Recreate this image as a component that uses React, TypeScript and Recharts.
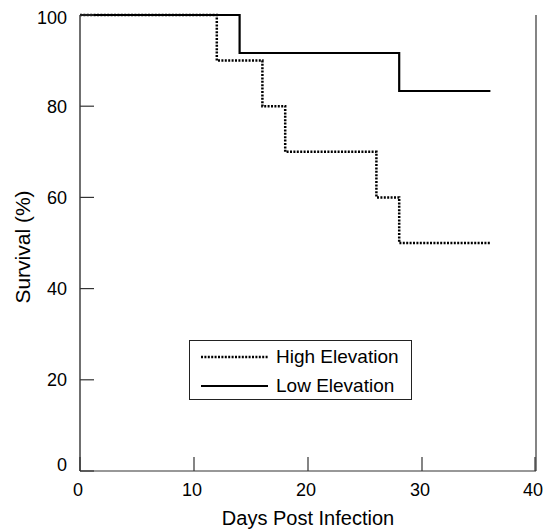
import React from 'react';
import { LineChart, Line, XAxis, YAxis, Legend, Label } from 'recharts';

// Kaplan-Meier steps
const highDays = [0, 12, 16, 18, 26, 28, 36];
const highSurvival = [100, 90, 80, 70, 60, 50, 50];
const lowDays = [0, 14, 28, 36];
const lowSurvival = [100, 91.67, 83.33, 83.33];

const xTicks = [0, 10, 20, 30, 40];
const yTicks = [0, 20, 40, 60, 80, 100];

const highData = highDays.map((d, i) => ({ day: d, survival: highSurvival[i] }));
const lowData = lowDays.map((d, i) => ({ day: d, survival: lowSurvival[i] }));

const AXIS = '#333';
const FONT = '"Liberation Sans", Arial, sans-serif';
const DOTS = '2 1.4';

const LeftTick = (props: any) => {
  const { x, y, payload } = props;
  // end labels sit slightly inside the frame in the original
  const nudge = payload.value === 0 ? -6 : payload.value === 100 ? 3 : 0;
  return (
    <g>
      <line x1={x} x2={x + 14} y1={y} y2={y} stroke={AXIS} strokeWidth={1.2} />
      <text x={x - 13} y={y + nudge} dy="0.35em" textAnchor="end" fontSize={18} fill="#000" fontFamily={FONT}>
        {payload.value}
      </text>
    </g>
  );
};

const RightTick = (props: any) => {
  const { x, y } = props;
  return <line x1={x} x2={x - 14} y1={y} y2={y} stroke={AXIS} strokeWidth={1.2} />;
};

const BottomTick = (props: any) => {
  const { x, y, payload } = props;
  return (
    <g>
      <line x1={x} x2={x} y1={y} y2={y - 14} stroke={AXIS} strokeWidth={1.2} />
      <text x={x - 2} y={y + 19} dy="0.35em" textAnchor="middle" fontSize={18} fill="#000" fontFamily={FONT}>
        {payload.value}
      </text>
    </g>
  );
};

const LegendBox = () => (
  <div
    style={{
      width: 223,
      height: 60,
      boxSizing: 'border-box',
      border: '1px solid #222',
      background: '#fff',
      position: 'relative',
      fontFamily: FONT,
      fontSize: 19,
      color: '#000',
    }}
  >
    {[
      { name: 'High Elevation', dash: DOTS, w: 2.5, top: 16 },
      { name: 'Low Elevation', dash: undefined, w: 2.2, top: 45 },
    ].map((it) => (
      <div key={it.name} style={{ position: 'absolute', left: 0, top: it.top - 12, height: 24, width: 223 }}>
        <svg width={80} height={24} style={{ position: 'absolute', left: 0, top: 0 }}>
          <line x1={11} x2={78} y1={12} y2={12} stroke="#000" strokeWidth={it.w} strokeDasharray={it.dash} />
        </svg>
        <span style={{ position: 'absolute', left: 86, top: 0, lineHeight: '24px', whiteSpace: 'nowrap' }}>{it.name}</span>
      </div>
    ))}
  </div>
);

export default function App() {
  return (
    <div style={{ position: 'absolute', left: 0, top: 0, fontFamily: FONT, background: '#fff' }}>
      <LineChart width={543} height={532} margin={{ top: 15, right: 0, left: 10, bottom: 31 }}>
        <XAxis
          dataKey="day"
          type="number"
          domain={[0, 40]}
          ticks={xTicks}
          tickSize={0}
          tickMargin={0}
          tickLine={false}
          tick={<BottomTick />}
          axisLine={{ stroke: AXIS, strokeWidth: 1.2 }}
          height={30}
        >
          <Label
            value="Days Post Infection"
            position="bottom"
            offset={10}
            fontSize={20}
            fill="#000"
            fontFamily={FONT}
          />
        </XAxis>
        <XAxis
          xAxisId="top"
          orientation="top"
          dataKey="day"
          type="number"
          domain={[0, 40]}
          tick={false}
          tickLine={false}
          axisLine={{ stroke: AXIS, strokeWidth: 1.2 }}
          height={0}
        />
        <YAxis
          type="number"
          domain={[0, 100]}
          ticks={yTicks}
          tickSize={0}
          tickMargin={0}
          tickLine={false}
          tick={<LeftTick />}
          axisLine={{ stroke: AXIS, strokeWidth: 1.4 }}
          width={70}
        >
          <Label
            content={(p: any) => {
              const vb = p.viewBox;
              const cx = vb.x + 12;
              const cy = vb.y + vb.height / 2 + 4;
              return (
                <text
                  transform={`translate(${cx},${cy}) rotate(-90)`}
                  textAnchor="middle"
                  dominantBaseline="central"
                  fontSize={21}
                  fill="#000"
                  fontFamily={FONT}
                >
                  Survival (%)
                </text>
              );
            }}
          />
        </YAxis>
        <YAxis
          yAxisId="r"
          orientation="right"
          type="number"
          domain={[0, 100]}
          ticks={yTicks}
          tickSize={0}
          tickMargin={0}
          tickLine={false}
          tick={<RightTick />}
          axisLine={{ stroke: AXIS, strokeWidth: 1.2 }}
          width={7}
        />
        <Legend
          layout="horizontal"
          verticalAlign="middle"
          align="center"
          content={<LegendBox />}
          wrapperStyle={{ position: 'absolute', left: 189, top: 340, width: 223, height: 60 }}
        />
        <Line
          name="High Elevation"
          data={highData}
          dataKey="survival"
          type="stepAfter"
          stroke="#000"
          strokeWidth={2.5}
          strokeDasharray={DOTS}
          dot={false}
          activeDot={false}
          isAnimationActive={false}
        />
        <Line
          name="Low Elevation"
          data={lowData}
          dataKey="survival"
          type="stepAfter"
          stroke="#000"
          strokeWidth={2.2}
          dot={false}
          activeDot={false}
          isAnimationActive={false}
        />
      </LineChart>
    </div>
  );
}
